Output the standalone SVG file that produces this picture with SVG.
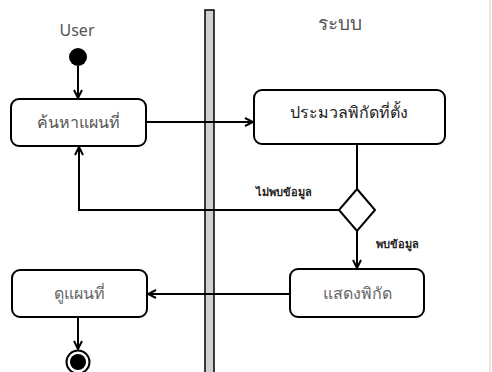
<svg xmlns="http://www.w3.org/2000/svg" width="492" height="372" viewBox="0 0 492 372">
<defs>
<style>
.node{fill:#fff;stroke:#000;stroke-width:2}
.lbl{font-family:"Noto Sans","DejaVu Sans",Tahoma,sans-serif;font-size:16px;fill:#555;text-anchor:middle}
.elbl{font-family:"Noto Sans","DejaVu Sans",Tahoma,sans-serif;font-size:11px;fill:#222;text-anchor:middle;font-weight:bold}
.edge{fill:none;stroke:#000;stroke-width:2}
</style>
<marker id="arr" viewBox="0 0 10 10" refX="9" refY="5" markerWidth="10" markerHeight="10" markerUnits="userSpaceOnUse" orient="auto">
<path d="M1,1 L9,5 L1,9" fill="none" stroke="#000" stroke-width="2"/>
</marker>
</defs>
<rect width="492" height="372" fill="#fff"/>
<line x1="490" y1="0" x2="490" y2="372" stroke="#ccc" stroke-width="1"/>
<g id="swimlane">
<rect x="205" y="10" width="9" height="370" fill="#d0d0d0" stroke="#000" stroke-width="1.5"/>
<text class="lbl" x="77" y="36">User</text>
<text class="lbl" x="340" y="30" style="font-size:19px">ระบบ</text>
</g>
<g id="connectors">
<line class="edge" x1="78" y1="66" x2="78" y2="98" marker-end="url(#arr)"/>
<line class="edge" x1="146" y1="122" x2="253" y2="122" marker-end="url(#arr)"/>
<line class="edge" x1="357" y1="144" x2="357" y2="189"/>
<polyline class="edge" points="340,210 79,210 79,147" marker-end="url(#arr)"/>
<line class="edge" x1="357" y1="231" x2="357" y2="268" marker-end="url(#arr)"/>
<line class="edge" x1="290" y1="294" x2="148" y2="294" marker-end="url(#arr)"/>
<line class="edge" x1="78" y1="317" x2="78" y2="349" marker-end="url(#arr)"/>
<text class="elbl" x="284" y="196">ไม่พบข้อมูล</text>
<text class="elbl" x="397" y="248">พบข้อมูล</text>
</g>
<g id="start"><circle cx="78" cy="57" r="9" fill="#000"/></g>
<g id="search"><rect class="node" x="11" y="99" width="135" height="47" rx="8"/><text class="lbl" x="78" y="128">ค้นหาแผนที่</text></g>
<g id="process"><rect class="node" x="254" y="90" width="191" height="54" rx="8"/><text class="lbl" x="349" y="118" style="fill:#222">ประมวลพิกัดที่ตั้ง</text></g>
<g id="decision"><polygon class="node" points="357,189 375,210 357,231 339,210"/></g>
<g id="show"><rect class="node" x="290" y="269" width="134" height="48" rx="8"/><text class="lbl" x="357" y="299" style="fill:#666">แสดงพิกัด</text></g>
<g id="view"><rect class="node" x="12" y="270" width="135" height="47" rx="8"/><text class="lbl" x="79" y="299" style="fill:#666">ดูแผนที่</text></g>
<g id="end"><circle cx="78" cy="362" r="11.5" fill="#fff" stroke="#000" stroke-width="2"/><circle cx="78" cy="362" r="8" fill="#000"/></g>
</svg>
